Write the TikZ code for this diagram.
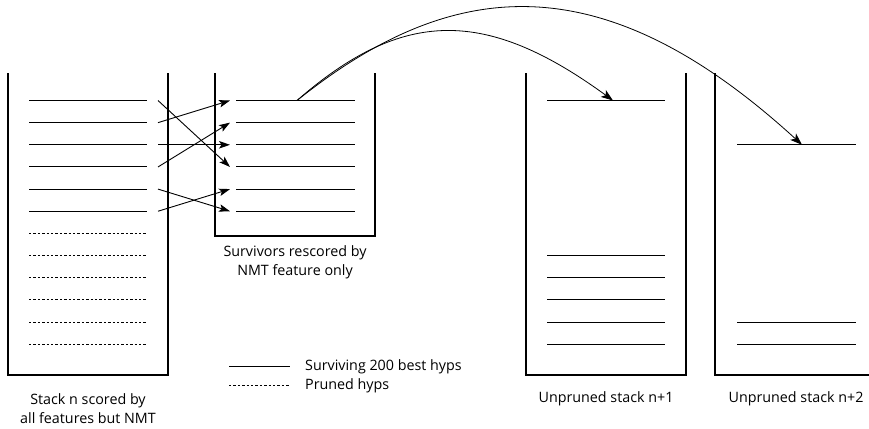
\documentclass[tikz,border=0pt]{standalone}
\usepackage{fontspec}
\setmainfont{Open Sans}
\usetikzlibrary{arrows.meta}
\begin{document}
\begin{tikzpicture}[x=1pt,y=-1pt,
  wall/.style={line width=2pt},
  hyp/.style={line width=1pt},
  pruned/.style={line width=1pt, dash pattern=on 2.4pt off 2pt},
  swapline/.style={line width=0.9pt, -{Stealth[length=11pt,width=7.5pt,inset=2.5pt]}},
  jump/.style={line width=0.8pt, -{Stealth[length=12pt,width=8.5pt,inset=3pt]}},
  lbl/.style={font=\fontsize{14.3}{19}\selectfont, align=center, inner sep=0pt}]
\useasboundingbox (0,0) rectangle (869,428);

% hypothesis rows: y position of row i
\foreach \i in {1,...,12} {
  \pgfmathsetmacro{\yy}{100.5+22.15*(\i-1)}
  \coordinate (a\i) at (158,\yy);
  \coordinate (b\i) at (230,\yy);
  \coordinate (p\i) at (29,\yy);  \coordinate (q\i) at (147,\yy);
  \coordinate (s\i) at (236,\yy); \coordinate (t\i) at (355,\yy);
  \coordinate (u\i) at (547,\yy); \coordinate (v\i) at (665,\yy);
  \coordinate (w\i) at (737,\yy); \coordinate (z\i) at (856,\yy);
}

% stacks (open-topped boxes)
\draw[wall] (8,73) -- (8,375) -- (168,375) -- (168,73);
\draw[wall] (215,73) -- (215,235.5) -- (375,235.5) -- (375,73);
\draw[wall] (526,73) -- (526,375) -- (686,375) -- (686,73);
\draw[wall] (715,73) -- (715,375) -- (880,375);

% stack n: survivors and pruned hypotheses
\foreach \i in {1,...,6} \draw[hyp] (p\i) -- (q\i);
\foreach \i in {7,...,12} \draw[pruned] (p\i) -- (q\i);
% rescored survivors
\foreach \i in {1,...,6} \draw[hyp] (s\i) -- (t\i);
% stack n+1
\foreach \i in {1,8,9,10,11,12} \draw[hyp] (u\i) -- (v\i);
% stack n+2
\foreach \i in {3,11,12} \draw[hyp] (w\i) -- (z\i);

% reordering after rescoring
\draw[swapline] (a1) -- (b4);
\draw[swapline] (a2) -- (b1);
\draw[swapline] (a3) -- (b3);
\draw[swapline] (a4) -- (b2);
\draw[swapline] (a5) -- (b6);
\draw[swapline] (a6) -- (b5);

% expansion into later stacks
\coordinate (src) at (297,100.5);
\coordinate (dst1) at (613,100.5);
\coordinate (dst2) at (802,144.8);
\draw[jump] (src) .. controls (403,8) and (486,8) .. (dst1);
\draw[jump] (src) .. controls (450,-22) and (600,-40) .. (dst2);

% legend
\coordinate (k1) at (229,366.7); \coordinate (k2) at (290,366.7);
\coordinate (k3) at (229,385.3); \coordinate (k4) at (290,385.3);
\draw[hyp] (k1) -- (k2);
\draw[pruned] (k3) -- (k4);
\node[lbl, anchor=west] (leg1) at (305,366.7) {Surviving 200 best hyps};
\node[lbl, anchor=west] (leg2) at (305,385.3) {Pruned hyps};

% captions
\node[lbl] (cap1) at (88,408.5) {Stack n scored by\\all features but NMT};
\node[lbl] (cap2) at (295,262) {Survivors rescored by\\NMT feature only};
\node[lbl] (cap3) at (606,399) {Unpruned stack n+1};
\node[lbl] (cap4) at (796,399) {Unpruned stack n+2};
\end{tikzpicture}
\end{document}
